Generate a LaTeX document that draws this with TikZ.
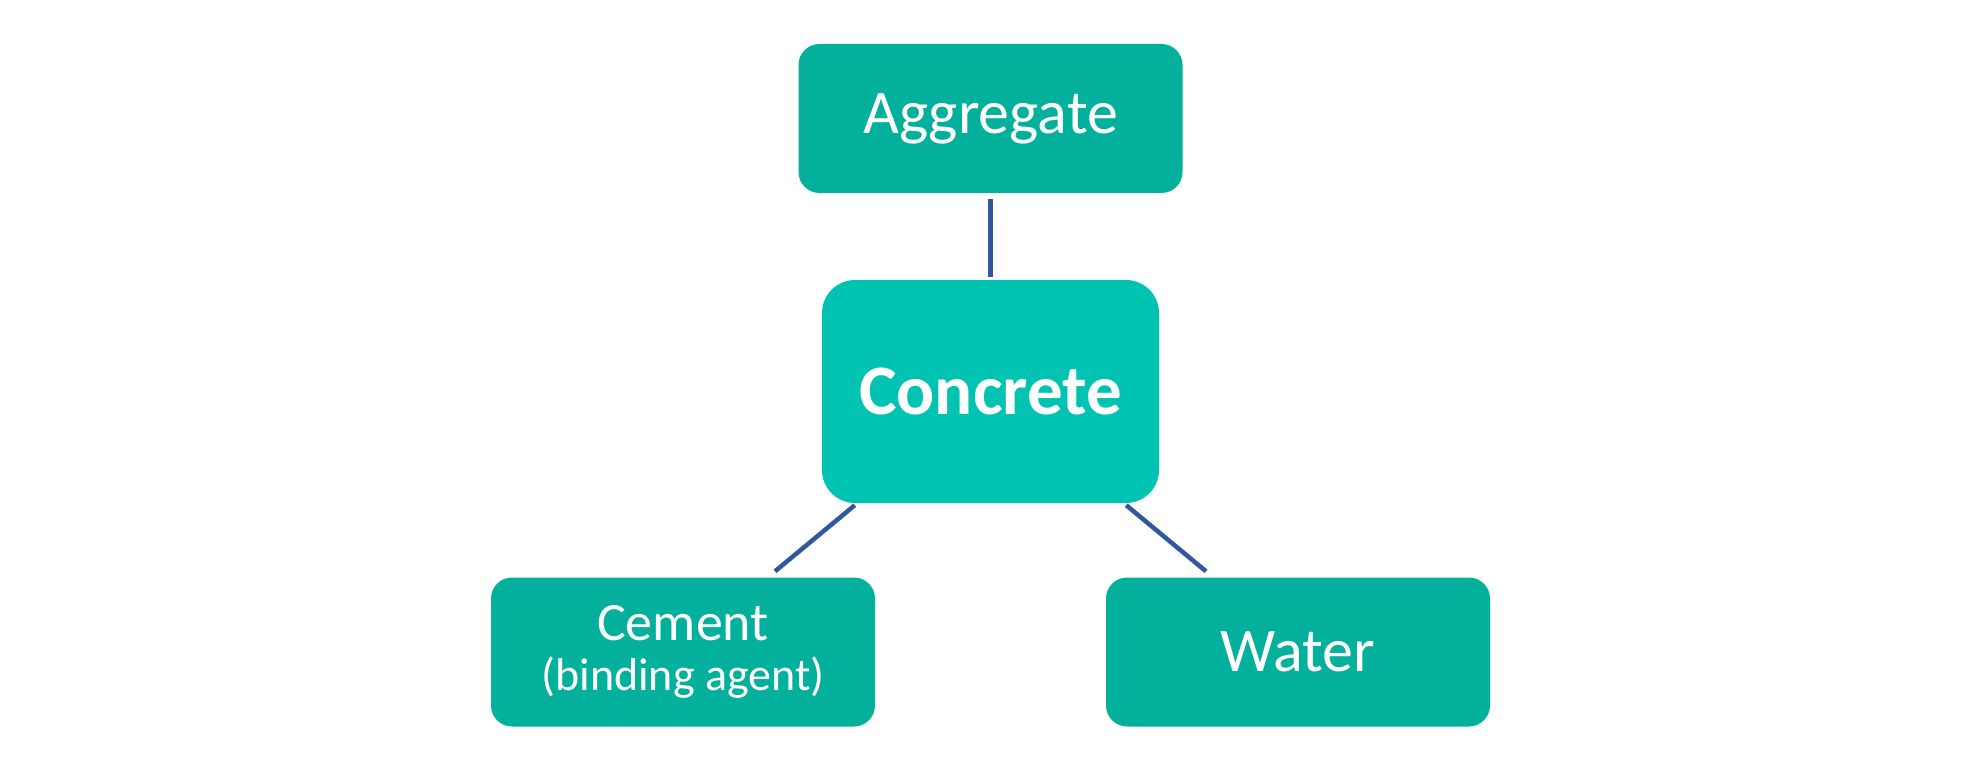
\documentclass[tikz,border=0pt]{standalone}
\usepackage{fontspec}
\setmainfont{Carlito}
\definecolor{boxteal}{HTML}{03B09B}
\definecolor{coreteal}{HTML}{00C4B1}
\definecolor{linkblue}{HTML}{3057A0}
\tikzset{
  partbox/.style={fill=boxteal, draw=none, rounded corners=21pt, minimum width=384pt, minimum height=149pt, inner sep=0pt, text=white, align=center},
  corebox/.style={fill=coreteal, draw=none, rounded corners=33pt, minimum width=337pt, minimum height=223pt, inner sep=0pt, text=white, align=center},
  link/.style={draw=linkblue, line width=4.5pt}
}
\begin{document}
\begin{tikzpicture}[x=1pt,y=-1pt]
\useasboundingbox (0,0) rectangle (1980,770);
\node[partbox, font=\fontsize{62}{70}\selectfont] (agg) at (990.5,118.5) {Aggregate};
\node[corebox, font=\fontsize{71}{80}\selectfont\bfseries] (conc) at (990.5,391.5) {Concrete};
\node[partbox, font=\fontsize{54}{50}\selectfont] (cem) at (683,652) {Cement\\{\fontsize{46}{50}\selectfont (binding agent)}};
\node[partbox, font=\fontsize{62}{70}\selectfont] (wat) at (1298,652) {Water};
\draw[link] ([yshift=-6pt]agg.south) -- ([yshift=3pt]conc.north);
\draw[link] ([xshift=33pt,yshift=-2pt]conc.south west) -- ([xshift=92pt,yshift=6pt]cem.north);
\draw[link] ([xshift=-33pt,yshift=-2pt]conc.south east) -- ([xshift=-92pt,yshift=6pt]wat.north);
\end{tikzpicture}
\end{document}
